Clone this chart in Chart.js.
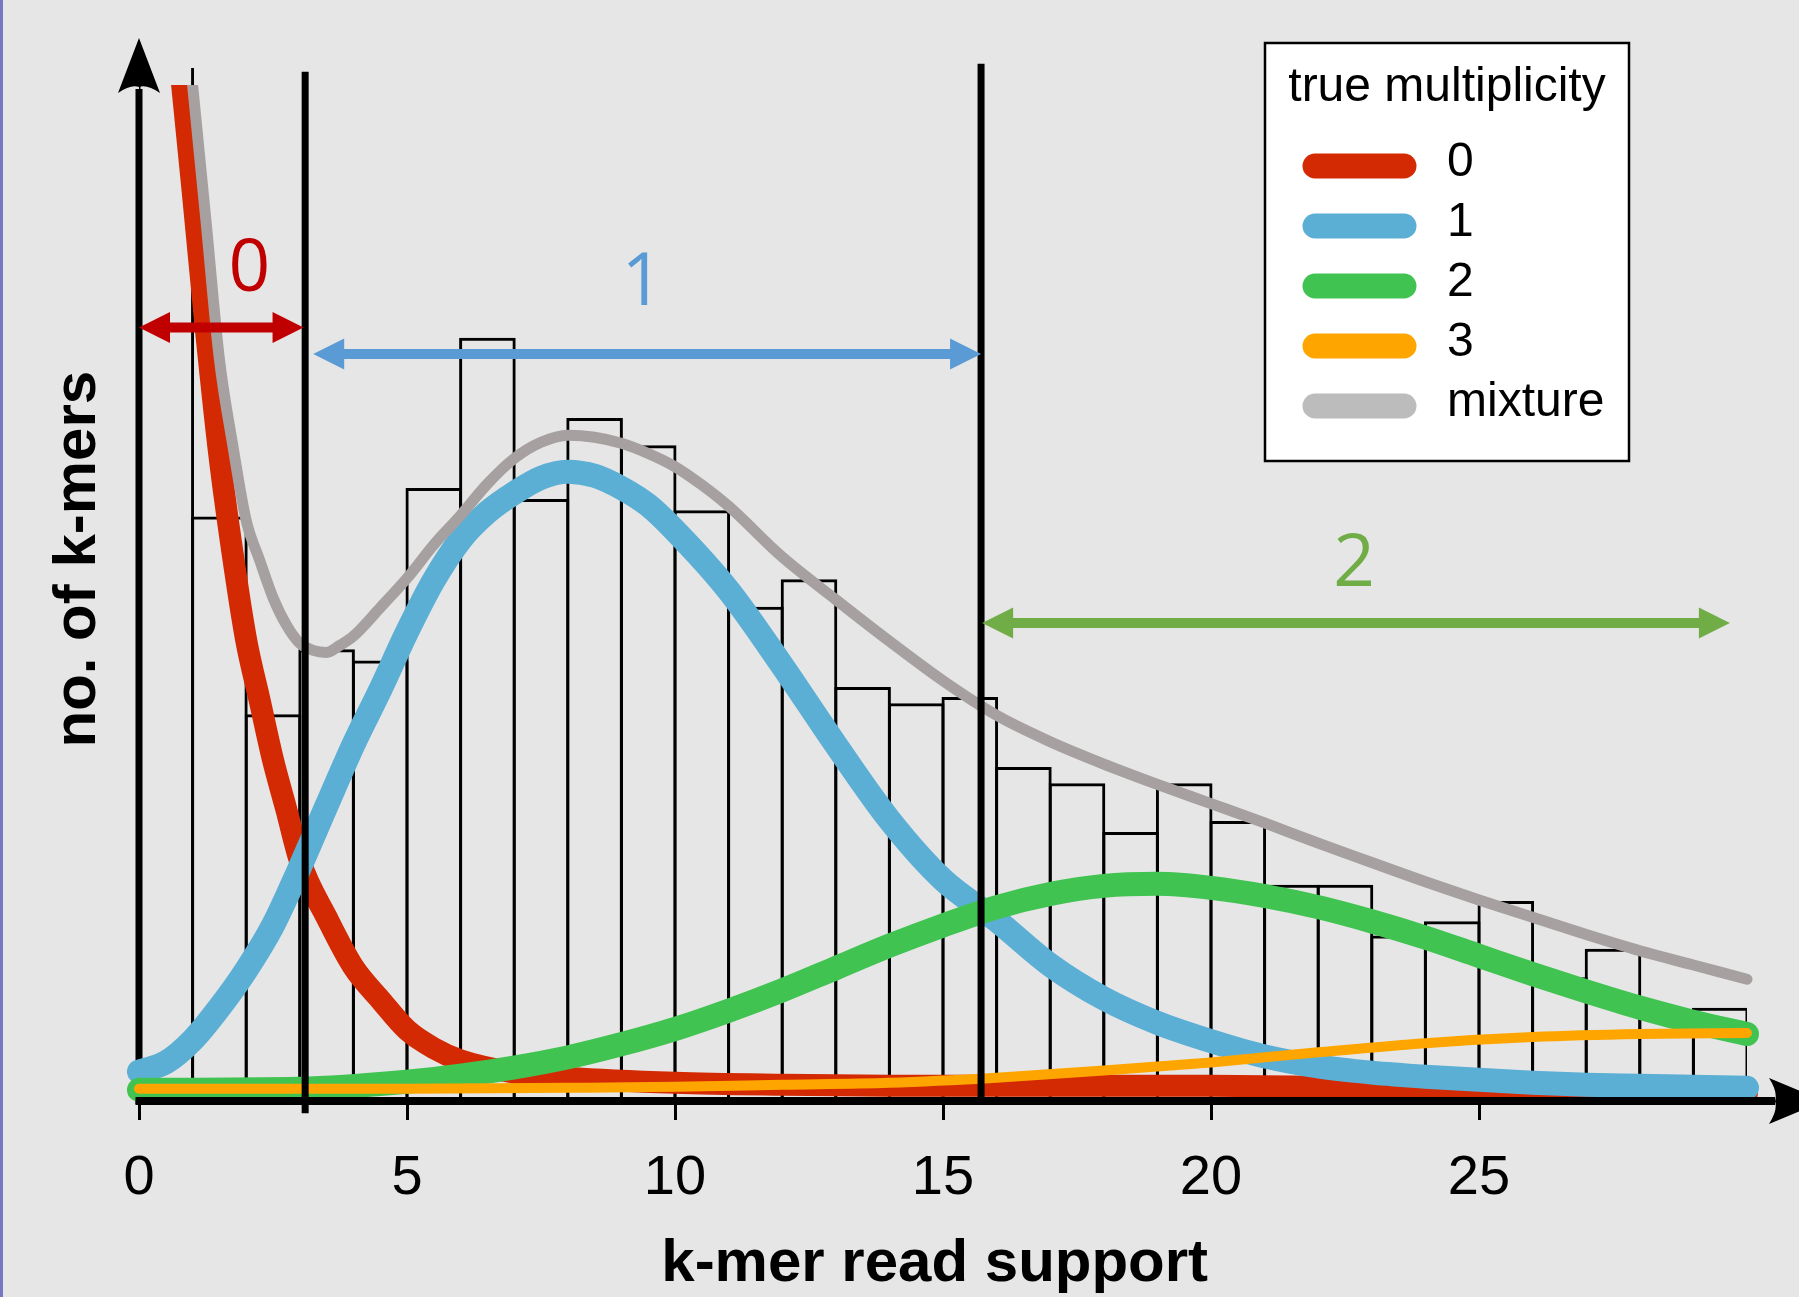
<!DOCTYPE html>
<html>
<head>
<meta charset="utf-8">
<title>k-mer read support</title>
<script src="https://cdn.jsdelivr.net/npm/chart.js@4.4.1/dist/chart.umd.min.js"></script>
<style>
  html, body { margin: 0; padding: 0; background: #e6e6e6; }
  canvas { display: block; }
</style>
</head>
<body>
<canvas id="kmerChart" width="1799" height="1297" style="width:1799px;height:1297px"></canvas>
<script>
// histogram: one bin per read-support value, bin i covers [i, i+1)
const binStart = [0, 1, 2, 3, 4, 5, 6, 7, 8, 9, 10, 11, 12, 13, 14, 15, 16, 17, 18, 19, 20, 21, 22, 23, 24, 25, 26, 27, 28, 29];
const kmerCounts = [1200, 575, 380, 444, 433, 603, 751, 592, 672, 645, 581, 486, 513, 407, 391, 397, 328, 312, 264, 312, 275, 212, 212, 162, 176, 196, 121, 149, 84, 91];

// fitted components (x = read support, y = k-mers)
const zeroX = [0.75, 1, 1.25, 1.5, 1.75, 2, 2.25, 2.5, 2.75, 3, 3.5, 4, 4.5, 5, 5.5, 6, 7, 8, 10, 12, 14, 16, 18, 20, 22, 24, 26, 28, 30];
const zeroY = [1029, 896, 758, 635, 537, 453, 394, 335, 286, 236, 180, 131, 99, 69, 51, 39, 27, 22, 17, 15, 14, 14, 14, 14, 13, 10, 8, 7, 7];

const oneX = [0, 0.5, 1, 1.5, 2, 2.5, 3, 3.5, 4, 4.5, 5, 5.5, 6, 6.5, 7, 7.5, 8, 8.5, 9, 9.5, 10, 11, 12, 13, 14, 15, 16, 17, 18, 19, 20, 21, 22, 23, 24, 25, 26, 27, 28, 29, 30];
const oneY = [28, 37, 59, 91, 128, 172, 229, 290, 350, 404, 461, 512, 552, 579, 598, 613, 619, 615, 603, 586, 561, 502, 428, 350, 276, 217, 177, 133, 100, 76, 58, 43, 33, 27, 23, 20, 17, 15, 14, 13, 12];

const twoX = [0, 3, 5, 6, 7, 8, 9, 10, 11, 12, 13, 14, 15, 16, 17, 18, 19, 20, 21, 22, 23, 24, 25, 26, 27, 28, 29, 30];
const twoY = [10, 11, 18, 24, 32, 42, 55, 70, 88, 108, 130, 152, 172, 190, 203, 211, 213, 209, 201, 190, 176, 160, 142, 124, 107, 91, 77, 65];

const threeX = [0, 5, 8, 10, 12, 14, 16, 18, 20, 22, 24, 26, 28, 30];
const threeY = [11, 11, 12, 13, 15, 17, 22, 29, 37, 47, 56, 62, 65, 66];

const mixX = [0.9, 1, 1.25, 1.5, 1.75, 2, 2.25, 2.5, 2.75, 3, 3.25, 3.5, 3.75, 4, 4.5, 5, 5.5, 6, 6.5, 7, 7.5, 8, 8.5, 9, 9.5, 10, 10.5, 11, 12, 13, 14, 15, 16, 17, 18, 19, 20, 21, 22, 23, 24, 25, 26, 27, 28, 29, 30];
const mixY = [1055, 1000, 866, 730, 645, 571, 532, 495, 468, 450, 443, 441, 448, 457, 485, 514, 547, 576, 607, 632, 648, 655, 653, 647, 637, 624, 606, 585, 535, 493, 452, 413, 379, 353, 331, 311, 292, 273, 253, 234, 215, 197, 180, 163, 147, 133, 119];

const tickValues = [0, 5, 10, 15, 20, 25];

// classification cut-offs and the ranges they give
const cutoffAt = [3.1, 15.71];
const cutoffTop = [1013, 1021];
const cutoffBottom = [-13, 0];

const regionNames = ['0', '1', '2'];
const regionStart = [0, 3.25, 15.73];
const regionEnd = [3.07, 15.71, 29.68];
const regionLevel = [761, 735, 470];
const regionLabelX = [2.06, 9.39, 22.67];
const regionLabelY = [818, 804, 527];
const regionColors = ['#c00000', '#5b9bd5', '#70ad47'];

Chart.defaults.font.family = "'Liberation Sans', Arial, sans-serif";
Chart.defaults.color = '#000';

function curve(label, xs, ys, color, width, order, legendColor) {
    return {
        type: 'line',
        label: label,
        order: order,
        data: xs.map((x, i) => ({ x: x, y: ys[i] })),
        borderColor: color,
        borderWidth: width,
        borderCapStyle: 'round',
        borderJoinStyle: 'round',
        pointRadius: 0,
        fill: false,
        cubicInterpolationMode: 'monotone',
        clip: { left: 20, right: 20, top: 0, bottom: 20 },
        legendColor: legendColor || color
    };
}

const backdrop = {
    id: 'backdrop',
    beforeDraw(chart) {
        const { ctx, width, height } = chart;
        ctx.save();
        ctx.fillStyle = '#e6e6e6';
        ctx.fillRect(0, 0, width, height);
        ctx.fillStyle = '#7676c4';
        ctx.fillRect(0, 0, 3, height);
        ctx.restore();
    }
};

// black axes with arrow heads: y axis under the curves, x axis over them
const arrowAxes = {
    id: 'arrowAxes',
    beforeDatasetsDraw(chart) {
        const { ctx, chartArea, scales: { x, y } } = chart;
        const x0 = x.getPixelForValue(0);
        const y0 = y.getPixelForValue(0);
        ctx.save();
        ctx.fillStyle = '#000';
        ctx.strokeStyle = '#000';
        ctx.lineWidth = 7;
        ctx.beginPath();
        ctx.moveTo(x0, y0 + 4);
        ctx.lineTo(x0, chartArea.top + 4);
        ctx.stroke();
        const tip = chartArea.top - 47;
        ctx.beginPath();
        ctx.moveTo(x0, tip);
        ctx.lineTo(x0 - 21, tip + 55);
        ctx.quadraticCurveTo(x0 - 8, tip + 46, x0, tip + 49);
        ctx.quadraticCurveTo(x0 + 8, tip + 46, x0 + 21, tip + 55);
        ctx.closePath();
        ctx.fill();
        ctx.restore();
    },
    afterDatasetsDraw(chart) {
        const { ctx, chartArea, scales: { x, y } } = chart;
        const x0 = x.getPixelForValue(0);
        const y0 = y.getPixelForValue(0);
        ctx.save();
        ctx.fillStyle = '#000';
        ctx.strokeStyle = '#000';
        ctx.lineWidth = 8;
        ctx.beginPath();
        ctx.moveTo(x0 - 3.5, y0 + 1);
        ctx.lineTo(chartArea.right + 28, y0 + 1);
        ctx.stroke();
        const base = chartArea.right + 22;
        ctx.beginPath();
        ctx.moveTo(base + 55, y0 + 1);
        ctx.lineTo(base, y0 - 22);
        ctx.quadraticCurveTo(base + 9, y0 - 8, base + 6, y0 + 1);
        ctx.quadraticCurveTo(base + 9, y0 + 10, base, y0 + 24);
        ctx.closePath();
        ctx.fill();
        ctx.restore();
    }
};

const cutoffLines = {
    id: 'cutoffLines',
    afterDatasetsDraw(chart) {
        const { ctx, scales: { x, y } } = chart;
        ctx.save();
        ctx.strokeStyle = '#000';
        ctx.lineWidth = 7;
        cutoffAt.forEach((c, i) => {
            const px = x.getPixelForValue(c);
            ctx.beginPath();
            ctx.moveTo(px, y.getPixelForValue(cutoffTop[i]));
            ctx.lineTo(px, y.getPixelForValue(cutoffBottom[i]));
            ctx.stroke();
        });
        ctx.restore();
    }
};

const regionArrows = {
    id: 'regionArrows',
    afterDatasetsDraw(chart) {
        const { ctx, scales: { x, y } } = chart;
        const head = 31, half = 15.5;
        ctx.save();
        regionNames.forEach((name, i) => {
            const x1 = x.getPixelForValue(regionStart[i]);
            const x2 = x.getPixelForValue(regionEnd[i]);
            const yy = y.getPixelForValue(regionLevel[i]);
            ctx.strokeStyle = regionColors[i];
            ctx.fillStyle = regionColors[i];
            ctx.lineWidth = 10;
            ctx.beginPath();
            ctx.moveTo(x1 + head - 2, yy);
            ctx.lineTo(x2 - head + 2, yy);
            ctx.stroke();
            ctx.beginPath();
            ctx.moveTo(x1, yy);
            ctx.lineTo(x1 + head, yy - half);
            ctx.lineTo(x1 + head, yy + half);
            ctx.closePath();
            ctx.fill();
            ctx.beginPath();
            ctx.moveTo(x2, yy);
            ctx.lineTo(x2 - head, yy - half);
            ctx.lineTo(x2 - head, yy + half);
            ctx.closePath();
            ctx.fill();

            ctx.font = "73px 'Open Sans', 'Liberation Sans', sans-serif";
            ctx.textAlign = 'center';
            ctx.textBaseline = 'middle';
            ctx.fillText(name, x.getPixelForValue(regionLabelX[i]), y.getPixelForValue(regionLabelY[i]));
        });
        ctx.restore();
    }
};

// boxed legend with thick rounded swatches
const multiplicityLegend = {
    id: 'multiplicityLegend',
    afterDraw(chart, args, opts) {
        const { ctx } = chart;
        ctx.save();
        ctx.fillStyle = '#fff';
        ctx.fillRect(opts.left, opts.top, opts.width, opts.height);
        ctx.strokeStyle = '#000';
        ctx.lineWidth = 2.5;
        ctx.strokeRect(opts.left, opts.top, opts.width, opts.height);

        ctx.fillStyle = '#000';
        ctx.font = "48px 'Liberation Sans', Arial, sans-serif";
        ctx.textAlign = 'center';
        ctx.textBaseline = 'alphabetic';
        ctx.fillText(opts.title, opts.left + opts.width / 2, opts.top + 58);

        const lines = chart.data.datasets.filter(d => d.type === 'line');
        ctx.textAlign = 'left';
        ctx.lineCap = 'round';
        lines.forEach((d, i) => {
            const cy = opts.top + 123 + i * 60;
            ctx.strokeStyle = d.legendColor;
            ctx.lineWidth = 25;
            ctx.beginPath();
            ctx.moveTo(opts.left + 50, cy);
            ctx.lineTo(opts.left + 139, cy);
            ctx.stroke();
            ctx.fillText(d.label, opts.left + 182, cy + 10);
        });
        ctx.restore();
    }
};

new Chart(document.getElementById('kmerChart'), {
    type: 'bar',
    data: {
        datasets: [
            {
                type: 'bar',
                label: 'k-mers',
                order: 10,
                data: binStart.map((b, i) => ({ x: b + 0.5, y: kmerCounts[i] })),
                backgroundColor: 'rgba(0,0,0,0)',
                borderColor: '#000',
                borderWidth: 3,
                borderSkipped: 'bottom',
                barPercentage: 1.056,
                categoryPercentage: 1,
                clip: { left: 0, right: 0, top: 17, bottom: 0 }
            },
            curve('0', zeroX, zeroY, '#d42a04', 22, 5),
            curve('1', oneX, oneY, '#5bafd5', 24, 4),
            curve('2', twoX, twoY, '#40c351', 24, 3),
            curve('3', threeX, threeY, '#ffa500', 10, 2),
            curve('mixture', mixX, mixY, '#a6a0a0', 11, 1, '#bcbcbc')
        ]
    },
    options: {
        responsive: false,
        animation: false,
        events: [],
        layout: { padding: { left: 0, right: 52, top: 85, bottom: 0 } },
        plugins: {
            legend: { display: false },
            tooltip: { enabled: false },
            multiplicityLegend: { left: 1265, top: 43, width: 364, height: 418, title: 'true multiplicity' }
        },
        scales: {
            x: {
                type: 'linear',
                min: 0,
                max: 30,
                offset: false,
                afterBuildTicks: s => { s.ticks = tickValues.map(v => ({ value: v })); },
                afterFit: s => { s.height = 197; },
                grid: { display: true, drawOnChartArea: false, drawTicks: true, tickLength: 20, tickWidth: 3, tickColor: '#000', offset: false },
                border: { display: false },
                ticks: { font: { size: 56 }, padding: 25, maxRotation: 0, autoSkip: false },
                title: { display: true, text: 'k-mer read support ', font: { size: 60, weight: 'bold', lineHeight: 1.1 }, padding: 0 }
            },
            y: {
                min: 0,
                max: 1000,
                afterFit: s => { s.width = 139; },
                grid: { display: false },
                border: { display: false },
                ticks: { display: false },
                title: { display: true, text: '    no. of k-mers', font: { size: 60, weight: 'bold', lineHeight: 1.1 }, padding: { top: 45, bottom: 0 } }
            }
        }
    },
    plugins: [backdrop, arrowAxes, cutoffLines, regionArrows, multiplicityLegend]
});
</script>
</body>
</html>
